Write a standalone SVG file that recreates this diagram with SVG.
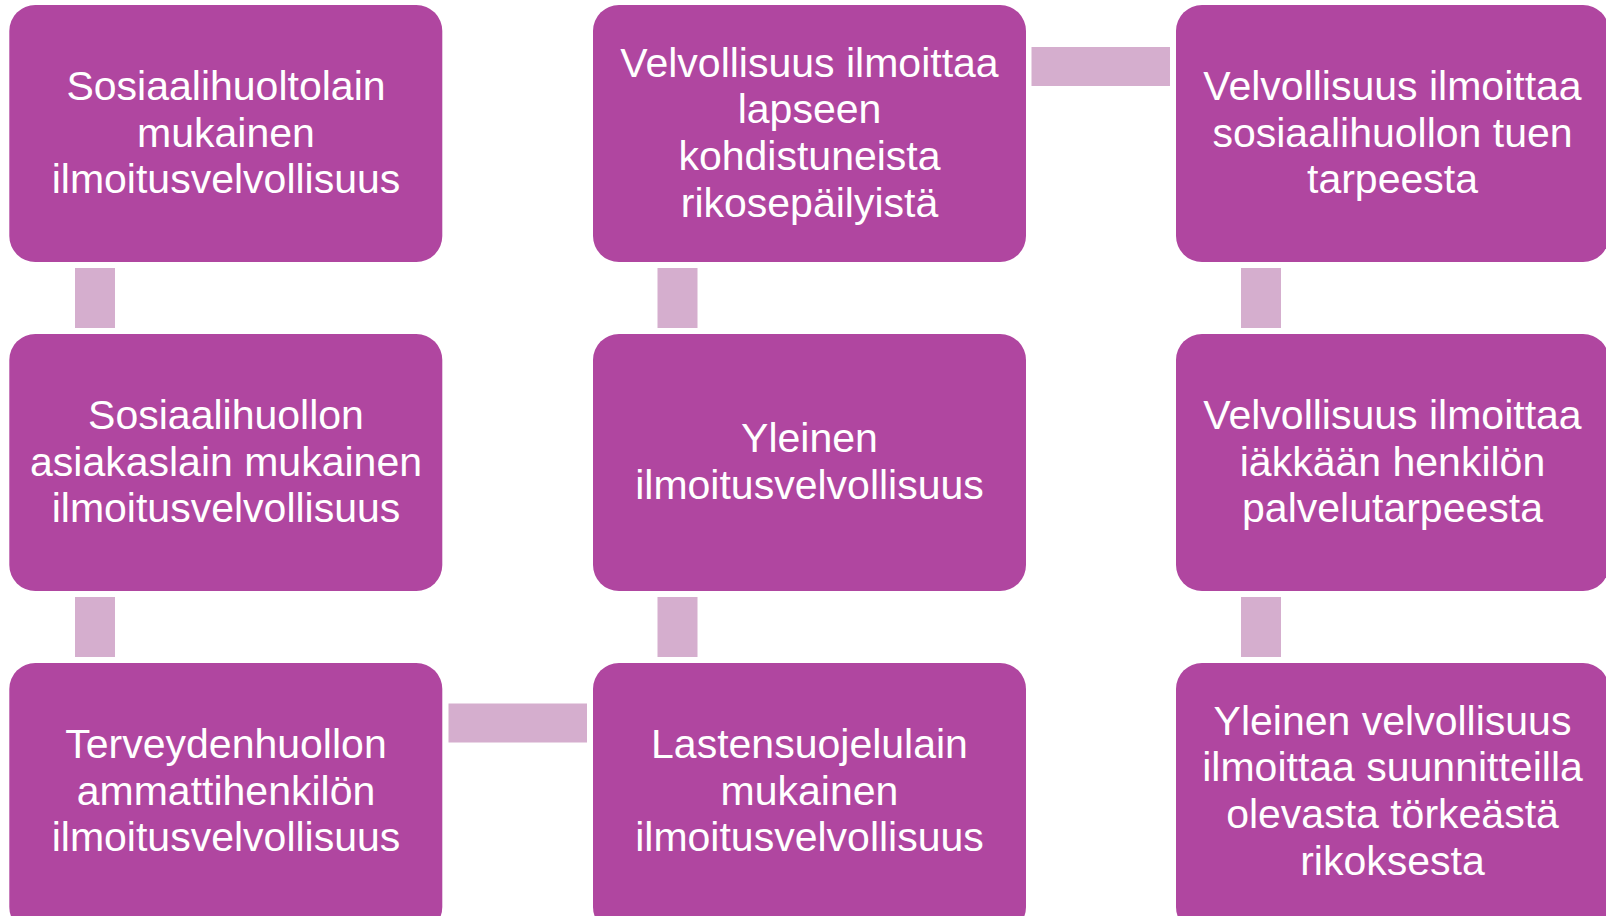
<svg xmlns="http://www.w3.org/2000/svg" width="1606" height="916" viewBox="0 0 1606 916">
<style>
.box{fill:#B046A0}
.con{fill:#D5AECE}
.t{font-family:"Liberation Sans",Arial,sans-serif;font-size:41px;fill:#FFFFFF;text-anchor:middle}
</style>
<rect width="1606" height="916" fill="#FFFFFF"/>
<g id="connectors">
<rect class="con" x="75" y="268" width="40" height="60"/>
<rect class="con" x="75" y="597" width="40" height="60"/>
<rect class="con" x="448.5" y="703.5" width="138.5" height="39"/>
<rect class="con" x="657.5" y="597" width="40" height="60"/>
<rect class="con" x="657.5" y="268" width="40" height="60"/>
<rect class="con" x="1031.5" y="47" width="138.5" height="39"/>
<rect class="con" x="1241" y="268" width="40" height="60"/>
<rect class="con" x="1241" y="597" width="40" height="60"/>
</g>
<g id="n1">
<rect class="box" x="9.3" y="5" width="433" height="257" rx="26"/>
<text class="t" x="226"><tspan x="226" y="100">Sosiaalihuoltolain</tspan><tspan x="226" y="146.7">mukainen</tspan><tspan x="226" y="193.4">ilmoitusvelvollisuus</tspan></text>
</g>
<g id="n2">
<rect class="box" x="9.3" y="334" width="433" height="257" rx="26"/>
<text class="t"><tspan x="226" y="428.8">Sosiaalihuollon</tspan><tspan x="226" y="475.5">asiakaslain mukainen</tspan><tspan x="226" y="522.2">ilmoitusvelvollisuus</tspan></text>
</g>
<g id="n3">
<rect class="box" x="9.3" y="663" width="433" height="270" rx="26"/>
<text class="t"><tspan x="226" y="757.8">Terveydenhuollon</tspan><tspan x="226" y="804.5">ammattihenkilön</tspan><tspan x="226" y="851.2">ilmoitusvelvollisuus</tspan></text>
</g>
<g id="n4">
<rect class="box" x="593" y="663" width="433" height="270" rx="26"/>
<text class="t"><tspan x="809.5" y="757.8">Lastensuojelulain</tspan><tspan x="809.5" y="804.5">mukainen</tspan><tspan x="809.5" y="851.2">ilmoitusvelvollisuus</tspan></text>
</g>
<g id="n5">
<rect class="box" x="593" y="334" width="433" height="257" rx="26"/>
<text class="t"><tspan x="809.5" y="452.2">Yleinen</tspan><tspan x="809.5" y="498.9">ilmoitusvelvollisuus</tspan></text>
</g>
<g id="n6">
<rect class="box" x="593" y="5" width="433" height="257" rx="26"/>
<text class="t"><tspan x="809.5" y="76.7">Velvollisuus ilmoittaa</tspan><tspan x="809.5" y="123.4">lapseen</tspan><tspan x="809.5" y="170.1">kohdistuneista</tspan><tspan x="809.5" y="216.8">rikosepäilyistä</tspan></text>
</g>
<g id="n7">
<rect class="box" x="1176" y="5" width="433" height="257" rx="26"/>
<text class="t"><tspan x="1392.5" y="100">Velvollisuus ilmoittaa</tspan><tspan x="1392.5" y="146.7">sosiaalihuollon tuen</tspan><tspan x="1392.5" y="193.4">tarpeesta</tspan></text>
</g>
<g id="n8">
<rect class="box" x="1176" y="334" width="433" height="257" rx="26"/>
<text class="t"><tspan x="1392.5" y="428.8">Velvollisuus ilmoittaa</tspan><tspan x="1392.5" y="475.5">iäkkään henkilön</tspan><tspan x="1392.5" y="522.2">palvelutarpeesta</tspan></text>
</g>
<g id="n9">
<rect class="box" x="1176" y="663" width="433" height="270" rx="26"/>
<text class="t"><tspan x="1392.5" y="734.5">Yleinen velvollisuus</tspan><tspan x="1392.5" y="781.2">ilmoittaa suunnitteilla</tspan><tspan x="1392.5" y="827.9">olevasta törkeästä</tspan><tspan x="1392.5" y="874.6">rikoksesta</tspan></text>
</g>
</svg>
